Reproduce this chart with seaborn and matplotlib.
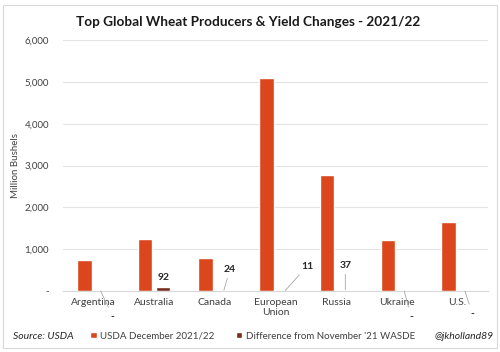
import pandas as pd
import matplotlib.pyplot as plt
import seaborn as sns
from matplotlib.ticker import FuncFormatter
from matplotlib.patches import Rectangle

countries = ['Argentina', 'Australia', 'Canada', 'European\nUnion', 'Russia', 'Ukraine', 'U.S.']
usda_dec = [735, 1249, 797, 5085, 2774, 1213, 1646]
diff_nov = [0, 92, 24, 11, 37, 0, 0]
series = ['USDA December 2021/22', "Difference from November '21 WASDE"]

df = pd.DataFrame({
    'country': countries * 2,
    'value': usda_dec + diff_nov,
    'series': [series[0]] * 7 + [series[1]] * 7,
})

sns.set_style('white')
plt.rcParams['font.family'] = ['Lato', 'DejaVu Sans']

fig = plt.figure(figsize=(5, 3.52), dpi=100)
fig.patches.append(Rectangle((0.006, 0.01), 0.988, 0.975, transform=fig.transFigure,
                             fill=False, edgecolor='#d9d9d9', lw=0.8))
ax = fig.add_axes([0.126, 0.173, 0.850, 0.713])

sns.barplot(data=df, x='country', y='value', hue='series',
            palette=['#dc461c', '#7a2b20'], saturation=1, width=0.6, gap=0.2,
            ax=ax, legend=True)

ax.set_ylim(0, 6000)
ax.set_yticks(range(0, 6001, 1000))
ax.yaxis.set_major_formatter(FuncFormatter(lambda v, p: '-' if v == 0 else f'{v:,.0f}'))
ax.grid(axis='y', color='#e3e3e3', lw=0.8)
ax.set_axisbelow(True)
for s in ['top', 'right', 'left']:
    ax.spines[s].set_visible(False)
ax.spines['bottom'].set_color('#d9d9d9')
ax.tick_params(axis='both', length=0, colors='#404040', labelsize=7)
ax.tick_params(axis='x', labelsize=7.5, pad=5)
ax.tick_params(axis='y', pad=10)
ax.set_xlabel('')
ax.set_ylabel('Million Bushels', fontsize=7, color='#404040', labelpad=3)

# data labels for the difference series
lbl = dict(fontsize=7.5, fontweight='bold', color='#262626', ha='center', va='center')
line = dict(arrowstyle='-', color='#a6a6a6', lw=0.6, shrinkA=1, shrinkB=0)
ax.text(1.15, diff_nov[1] + 230, str(diff_nov[1]), **lbl)
ax.annotate(str(diff_nov[2]), xy=(2.15, diff_nov[2]), xytext=(2.25, 526), arrowprops=line, **lbl)
ax.annotate(str(diff_nov[3]), xy=(3.16, diff_nov[3]), xytext=(3.52, 598), arrowprops=line, **lbl)
ax.annotate(str(diff_nov[4]), xy=(4.15, diff_nov[4]), xytext=(4.15, 622), arrowprops=line, **lbl)
for i, (tx, ty) in zip([0, 5, 6], [(0.32, -600), (5.23, -600), (6.24, -530)]):
    ax.annotate('-', xy=(i + 0.12, 0), xytext=(tx, ty), arrowprops=line,
                annotation_clip=False, **lbl)

handles, labels = ax.get_legend_handles_labels()
ax.get_legend().remove()
fig.legend(handles, labels, loc='center', bbox_to_anchor=(0.505, 0.045), ncol=2,
           frameon=False, fontsize=7, handlelength=0.65, handleheight=0.65,
           handletextpad=0.35, columnspacing=2.2, labelcolor='#404040')

fig.suptitle('Top Global Wheat Producers & Yield Changes - 2021/22',
             x=0.497, y=0.955, fontsize=9.8, fontweight='bold', color='#1a1a1a')
fig.text(0.026, 0.045, 'Source: USDA', fontsize=7.5, style='italic', color='#262626', va='center')
fig.text(0.988, 0.045, '@jkholland89', fontsize=7.5, style='italic', color='#262626',
         va='center', ha='right')

fig.savefig('out.png', dpi=100)
